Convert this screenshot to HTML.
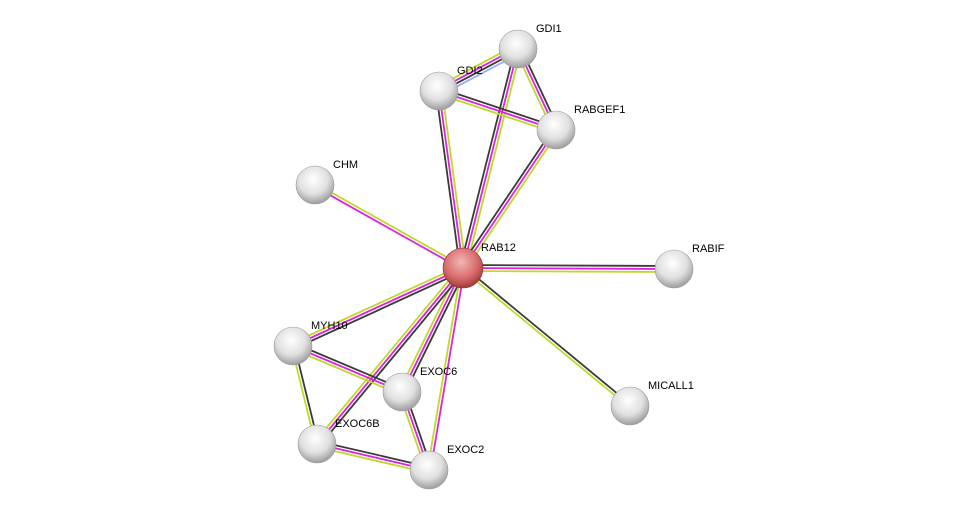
<!DOCTYPE html>
<html><head><meta charset="utf-8"><style>
html,body{margin:0;padding:0;background:#fff;width:976px;height:515px;overflow:hidden}
text{font-family:"Liberation Sans",sans-serif;font-size:11px;fill:#000}
</style></head><body>
<svg id="s" width="976" height="515" xmlns="http://www.w3.org/2000/svg">
<defs>
<radialGradient id="g" cx="0.45" cy="0.35" r="0.7">
<stop offset="0" stop-color="#ffffff"/><stop offset="0.55" stop-color="#e0e0e0"/><stop offset="1" stop-color="#909090"/>
</radialGradient>
<radialGradient id="r" cx="0.45" cy="0.35" r="0.7">
<stop offset="0" stop-color="#f3b5b5"/><stop offset="0.6" stop-color="#d76a6a"/><stop offset="1" stop-color="#963030"/>
</radialGradient>
</defs>
<g id="e"></g><g id="n"></g>
</svg>
<script>
var N={RAB12:[463,268],GDI1:[518,49],GDI2:[439,91],RABGEF1:[556,130],CHM:[315,185],RABIF:[674,269],MYH10:[293,346],EXOC6:[402,392],MICALL1:[630,406],EXOC6B:[317,444],EXOC2:[429,470]};
var C={k:"#3a3a3a",m:"#e020e0",y:"#c0d828",b:"#9aa8ff"};
var E=[["RAB12","GDI1","kmy"],["RAB12","GDI2","kmy"],["RAB12","RABGEF1","kmy"],["RAB12","CHM","my"],["RAB12","RABIF","kmy"],["RAB12","MYH10","kmy"],["RAB12","EXOC6","kmy"],["RAB12","EXOC6B","kmy"],["RAB12","EXOC2","my"],["RAB12","MICALL1","ky"],["GDI1","GDI2","bkmy"],["GDI1","RABGEF1","kmy"],["GDI2","RABGEF1","kmy"],["MYH10","EXOC6","kmy"],["MYH10","EXOC6B","ky"],["EXOC6B","EXOC2","kmy"],["EXOC6","EXOC2","kmy"]];
var ns="http://www.w3.org/2000/svg",eg=document.getElementById("e"),ng=document.getElementById("n");
E.forEach(function(d){var a=N[d[0]],b=N[d[1]],dx=b[0]-a[0],dy=b[1]-a[1],L=Math.hypot(dx,dy),px=-dy/L,py=dx/L,n=d[2].length;
for(var i=0;i<n;i++){var o=(i-(n-1)/2)*3,l=document.createElementNS(ns,"line");
l.setAttribute("x1",a[0]+px*o);l.setAttribute("y1",a[1]+py*o);l.setAttribute("x2",b[0]+px*o);l.setAttribute("y2",b[1]+py*o);
l.setAttribute("stroke",C[d[2][i]]);l.setAttribute("stroke-width","1.8");eg.appendChild(l);}});
for(var k in N){var p=N[k],c=document.createElementNS(ns,"circle");c.setAttribute("cx",p[0]);c.setAttribute("cy",p[1]);c.setAttribute("r",k=="RAB12"?20:19);
c.setAttribute("fill",k=="RAB12"?"url(#r)":"url(#g)");c.setAttribute("stroke",k=="RAB12"?"#8a3030":"#999");c.setAttribute("stroke-width","0.6");ng.appendChild(c);
var t=document.createElementNS(ns,"text");t.setAttribute("x",p[0]+18);t.setAttribute("y",p[1]-17);t.textContent=k;ng.appendChild(t);}
</script>
</body></html>
